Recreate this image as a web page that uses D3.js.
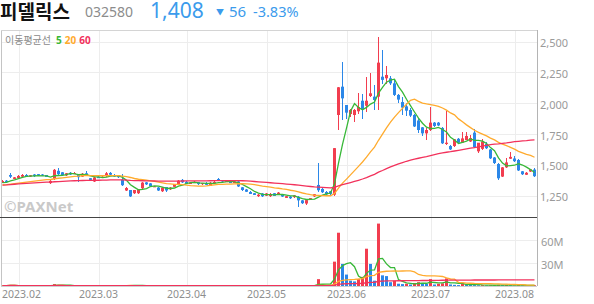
<!DOCTYPE html>
<html>
<head>
<meta charset="utf-8">
<script src="https://cdn.jsdelivr.net/npm/d3@7"></script>
<style>
  body { margin: 0; background: #fff; }
  svg { display: block; font-family: "Noto Sans", "Noto Sans CJK KR", sans-serif; }
</style>
</head>
<body>
<svg id="chart" width="594" height="304"></svg>
<script>
// trading calendar (KRX), weekends and these holidays skipped
const firstDay = '2023-01-26';
const lastDay = '2023-08-08';
const holidays = ['2023-03-01', '2023-05-01', '2023-05-05', '2023-05-29', '2023-06-06'];

// closes before the visible window, only used to seed the moving averages
const priorCloses = [1318, 1322, 1315, 1320, 1326, 1330, 1324, 1328, 1335, 1332,
                     1338, 1330, 1336, 1342, 1340, 1345, 1350, 1348, 1355, 1362];

// [open, high, low, close] per trading day
const ohlc = [
  // Jan 26 - Feb
  [1356,1375,1352,1369],[1372,1376,1352,1360],[1418,1432,1395,1404],[1386,1404,1383,1399],
  [1392,1414,1390,1410],[1404,1426,1400,1418],[1418,1422,1400,1404],[1405,1420,1402,1416],
  [1422,1426,1404,1408],[1425,1428,1412,1415],[1422,1426,1410,1412],[1418,1420,1398,1402],
  [1352,1378,1348,1370],[1385,1464,1380,1460],[1452,1475,1420,1425],[1440,1445,1415,1418],
  [1415,1436,1412,1432],[1436,1440,1418,1422],[1426,1440,1424,1434],[1426,1430,1365,1400],
  [1405,1432,1400,1428],[1432,1450,1412,1415],[1392,1396,1375,1378],[1365,1400,1360,1398],
  // Mar
  [1404,1410,1390,1392],[1395,1408,1392,1404],[1408,1440,1405,1432],[1435,1440,1415,1420],
  [1418,1422,1402,1405],[1414,1418,1396,1400],[1380,1430,1330,1335],[1292,1318,1286,1312],
  [1296,1300,1236,1244],[1270,1300,1265,1296],[1270,1305,1266,1302],[1310,1360,1305,1356],
  [1358,1364,1338,1342],[1350,1356,1322,1325],[1322,1330,1318,1326],[1316,1320,1288,1292],
  [1286,1320,1282,1316],[1320,1324,1282,1292],[1302,1320,1298,1316],[1322,1348,1320,1345],
  [1345,1376,1342,1372],[1378,1382,1355,1358],
  // Apr
  [1362,1366,1342,1346],[1345,1360,1342,1356],[1352,1366,1350,1362],[1360,1364,1340,1344],
  [1345,1356,1340,1352],[1352,1358,1335,1338],[1330,1358,1325,1355],[1350,1368,1345,1362],
  [1385,1392,1368,1372],[1374,1378,1362,1365],[1362,1372,1358,1368],[1370,1374,1350,1352],
  [1352,1370,1350,1364],[1366,1368,1322,1325],[1318,1322,1292,1296],[1300,1304,1278,1282],
  [1280,1284,1260,1264],[1270,1274,1252,1256],[1246,1262,1242,1258],[1268,1272,1242,1245],
  // May
  [1250,1272,1246,1268],[1246,1268,1240,1264],[1270,1274,1244,1248],[1258,1280,1254,1275],
  [1256,1262,1240,1243],[1232,1250,1228,1246],[1242,1248,1226,1229],[1238,1256,1234,1252],
  [1242,1246,1161,1212],[1212,1216,1186,1189],[1186,1216,1172,1214],[1218,1235,1214,1230],
  [1244,1266,1240,1262],[1337,1513,1282,1294],[1305,1310,1274,1278],[1280,1284,1256,1260],
  [1286,1292,1254,1264],[1258,1640,1250,1636],[1905,2135,1783,2130],[2135,2338,1864,2040],
  // Jun
  [1986,1990,1870,1924],[1913,1955,1890,1946],[1905,1950,1848,1946],[1935,2085,1910,1970],
  [2021,2075,1870,1951],[1980,2216,1930,2021],[2059,2243,2054,2081],[2054,2149,1946,2027],
  [2054,2535,1946,2330],[2216,2433,2160,2190],[2203,2300,2160,2230],[2203,2220,2150,2162],
  [2162,2190,2060,2068],[2068,2075,2000,2030],[2010,2054,1905,1965],[1975,2000,1900,1940],
  [1946,1960,1890,1900],[1905,1910,1805,1812],[1860,1880,1760,1783],[1805,1810,1735,1756],
  [1756,1800,1700,1783],
  // Jul
  [1783,1967,1775,1843],[1843,1850,1810,1816],[1843,1850,1815,1820],[1800,1805,1670,1675],
  [1670,1940,1665,1680],[1653,1660,1620,1626],[1653,1712,1648,1708],[1712,1720,1676,1680],
  [1680,1770,1676,1715],[1702,1765,1698,1735],[1690,1740,1686,1718],[1762,1788,1638,1643],
  [1610,1665,1600,1680],[1630,1712,1620,1690],[1670,1685,1630,1635],[1625,1630,1550,1553],
  [1560,1565,1510,1515],[1507,1512,1380,1391],[1405,1484,1400,1480],[1480,1552,1476,1520],
  [1550,1605,1545,1565],
  // Aug
  [1552,1575,1526,1530],[1540,1545,1450,1455],[1448,1452,1416,1424],[1420,1440,1414,1436],
  [1446,1470,1440,1464],[1462,1472,1400,1408]
];

// volume, millions of shares
const volumes = [
  0.4,0.3,1.3,0.5,0.4,0.5,0.3,0.3,0.4,0.3,0.3,0.3,0.5,2.5,1.2,0.6,0.5,0.4,0.3,0.8,0.4,0.5,0.4,0.5,
  0.4,0.3,0.6,0.4,0.3,0.3,0.9,0.5,1.0,0.5,0.4,0.8,0.4,0.3,0.2,0.3,0.3,0.3,0.2,0.3,0.4,0.3,
  0.3,0.2,0.2,0.3,0.2,0.3,0.3,0.2,0.4,0.3,0.2,0.3,0.2,0.5,0.4,0.3,0.3,0.3,0.2,0.3,
  0.3,0.2,0.3,0.3,0.2,0.2,0.3,0.2,0.8,0.4,0.3,0.3,0.5,9,1.5,1,1.2,32,70,29,
  15,7,6,9,12,49,29,7,82,14,13,5,7,3,2.5,3,2,4,5,4,3,
  9,2,3,3.5,10,2,1.5,1.2,3,2,1.5,1.2,1,1.1,0.8,1,0.9,1.5,1.2,1.3,1,
  0.8,1.2,0.9,0.7,0.8,1
];

const priceTicks = [1250, 1500, 1750, 2000, 2250, 2500];
const volumeTicks = [30, 60];
const maPeriods = [5, 20, 60];
const maColors = ['#38b838', '#ffab2e', '#f2325c'];
const upColor = '#f23d4f', downColor = '#2b87e8';

const svg = d3.select('#chart');
const plotL = 0.5, plotR = 536.5;
const priceTop = 30, priceBottom = 216.5;
const volTop = 217.5, volBottom = 286;

const days = [];
for (let t = Date.parse(firstDay); t <= Date.parse(lastDay); t += 864e5) {
  const d = new Date(t);
  const s = d.toISOString().slice(0, 10);
  if (d.getUTCDay() === 0 || d.getUTCDay() === 6 || holidays.includes(s)) continue;
  days.push(s);
}
const monthStarts = days.filter((d, i) => i > 0 && d.slice(5, 7) !== days[i - 1].slice(5, 7));

const x = d3.scaleBand().domain(days).range([plotL, plotR]);
const cx = d => x(d) + x.bandwidth() / 2;
const y = d3.scaleLinear().domain([1081, 2595]).range([priceBottom, priceTop]);
const yv = d3.scaleLinear().domain([0, 90]).range([volBottom, volTop]);
const crisp = v => Math.round(v) + 0.5;

// moving averages
const allCloses = priorCloses.concat(ohlc.map(d => d[3]));
const off = priorCloses.length;
const movingAvg = (arr, n, start) => d3.range(start, arr.length).map(i => {
  const s = Math.max(0, i - n + 1);
  return d3.mean(arr.slice(s, i + 1));
});
const priceMA = maPeriods.map(n => movingAvg(allCloses, n, off));
const volMA = maPeriods.map(n => movingAvg(volumes, n, 0));

const clip = (id, y0, y1) => svg.append('clipPath').attr('id', id)
  .append('rect').attr('x', plotL).attr('y', y0).attr('width', plotR - plotL).attr('height', y1 - y0);
clip('cp', priceTop, priceBottom);
clip('cv', volTop, volBottom);

// grid
const grid = svg.append('g').attr('stroke', '#ededed').attr('shape-rendering', 'crispEdges');
grid.selectAll('.gx').data(monthStarts).enter().append('line')
  .attr('x1', d => crisp(cx(d))).attr('x2', d => crisp(cx(d)))
  .attr('y1', priceTop).attr('y2', volBottom);
grid.selectAll('.gy').data(priceTicks).enter().append('line')
  .attr('x1', plotL).attr('x2', plotR).attr('y1', d => crisp(y(d))).attr('y2', d => crisp(y(d)));
grid.selectAll('.gv').data(volumeTicks).enter().append('line')
  .attr('x1', plotL).attr('x2', plotR).attr('y1', d => crisp(yv(d))).attr('y2', d => crisp(yv(d)));

// candles
const pg = svg.append('g').attr('clip-path', 'url(#cp)');
const candle = pg.selectAll('g.c').data(ohlc).enter().append('g')
  .attr('fill', d => d[3] >= d[0] ? upColor : downColor)
  .attr('stroke', d => d[3] >= d[0] ? upColor : downColor);
candle.append('line')
  .attr('x1', (d, i) => cx(days[i])).attr('x2', (d, i) => cx(days[i]))
  .attr('y1', d => y(d[1])).attr('y2', d => y(d[2]))
  .attr('stroke-width', 1).attr('shape-rendering', 'crispEdges');
candle.append('rect')
  .attr('x', (d, i) => cx(days[i]) - 1.5).attr('width', 3)
  .attr('y', d => y(Math.max(d[0], d[3])))
  .attr('height', d => Math.max(1, y(Math.min(d[0], d[3])) - y(Math.max(d[0], d[3]))))
  .attr('stroke', 'none');

const line = (scale) => d3.line().x((d, i) => cx(days[i])).y(d => scale(d));
pg.selectAll('path.ma').data(priceMA).enter().append('path')
  .attr('d', line(y)).attr('fill', 'none')
  .attr('stroke', (d, i) => maColors[i]).attr('stroke-width', 1.3);

// volume
const vg = svg.append('g').attr('clip-path', 'url(#cv)');
vg.selectAll('rect').data(volumes).enter().append('rect')
  .attr('x', (d, i) => cx(days[i]) - 1.5).attr('width', 3)
  .attr('y', d => yv(d)).attr('height', d => volBottom - yv(d))
  .attr('fill', (d, i) => i === 0 || d >= volumes[i - 1] ? upColor : downColor);
vg.selectAll('path.vma').data(volMA).enter().append('path')
  .attr('d', line(yv)).attr('fill', 'none')
  .attr('stroke', (d, i) => maColors[i]).attr('stroke-width', 1.3);

// frame
const frame = svg.append('g').attr('shape-rendering', 'crispEdges').attr('fill', 'none');
frame.append('line').attr('x1', 1.5).attr('x2', 1.5).attr('y1', priceTop).attr('y2', volBottom).attr('stroke', '#c4c4c4');
frame.append('line').attr('x1', 1).attr('x2', 537).attr('y1', 30.5).attr('y2', 30.5).attr('stroke', '#d4d4d4');
frame.append('line').attr('x1', 537.5).attr('x2', 537.5).attr('y1', priceTop).attr('y2', volBottom).attr('stroke', '#b4b4b4');
frame.append('line').attr('x1', 0).attr('x2', 537).attr('y1', 217.5).attr('y2', 217.5).attr('stroke', '#444');
frame.append('line').attr('x1', 1).attr('x2', 537).attr('y1', 286.5).attr('y2', 286.5).attr('stroke', '#cfcfcf');

// axes
const yAxis = svg.append('g').attr('transform', 'translate(537,1.5)')
  .call(d3.axisRight(y).tickValues(priceTicks).tickFormat(d3.format(',')).tickSize(0).tickPadding(3));
const vAxis = svg.append('g').attr('transform', 'translate(537,1.5)')
  .call(d3.axisRight(yv).tickValues(volumeTicks).tickFormat(d => d + 'M').tickSize(0).tickPadding(4));
[yAxis, vAxis].forEach(a => {
  a.select('.domain').remove();
  a.selectAll('text').attr('fill', '#9a9a9a').style('font-size', '11px').style('font-family', '"Noto Sans", sans-serif');
});

svg.append('g').selectAll('text').data(monthStarts).enter().append('text')
  .attr('x', d => Math.max(cx(d), 21.5)).attr('y', 298)
  .attr('text-anchor', 'middle').attr('fill', '#8e8e8e').style('font-size', '10.5px')
  .text(d => d.slice(0, 4) + '.' + d.slice(5, 7));

// watermark
svg.append('text').attr('x', 4).attr('y', 212)
  .attr('fill', '#c9c9c9').style('font-size', '15px').style('font-weight', 'bold')
  .text('©PAXNet');

// header
const head = svg.append('g');
head.append('text').attr('x', 0).attr('y', 18.5).attr('fill', '#111')
  .style('font-family', '"Noto Sans CJK KR", sans-serif').style('font-size', '19px').style('font-weight', 'bold')
  .text('피델릭스');
head.append('text').attr('x', 85).attr('y', 17).attr('fill', '#8c8c8c').style('font-size', '14px').text('032580');
head.append('text').attr('x', 150).attr('y', 17.5).attr('fill', '#3b9bec').style('font-size', '21px').text('1,408');
head.append('text').attr('x', 216).attr('y', 14.5).attr('fill', '#3b9bec').style('font-size', '8px').text('▼');
head.append('text').attr('x', 229).attr('y', 17).attr('fill', '#3b9bec').style('font-size', '15px').text('56');
head.append('text').attr('x', 253).attr('y', 17).attr('fill', '#3b9bec').style('font-size', '14.5px').text('-3.83%');

const legend = svg.append('text').attr('x', 5).attr('y', 43.5).style('font-size', '10px');
legend.append('tspan').attr('fill', '#8a8a8a').style('font-family', '"Noto Sans CJK KR", sans-serif').text('이동평균선');
['5', '20', '60'].forEach((t, i) => {
  legend.append('tspan').attr('dx', i === 0 ? 5 : 3).attr('fill', maColors[i]).style('font-weight', 'bold').text(t);
});
</script>
</body>
</html>
